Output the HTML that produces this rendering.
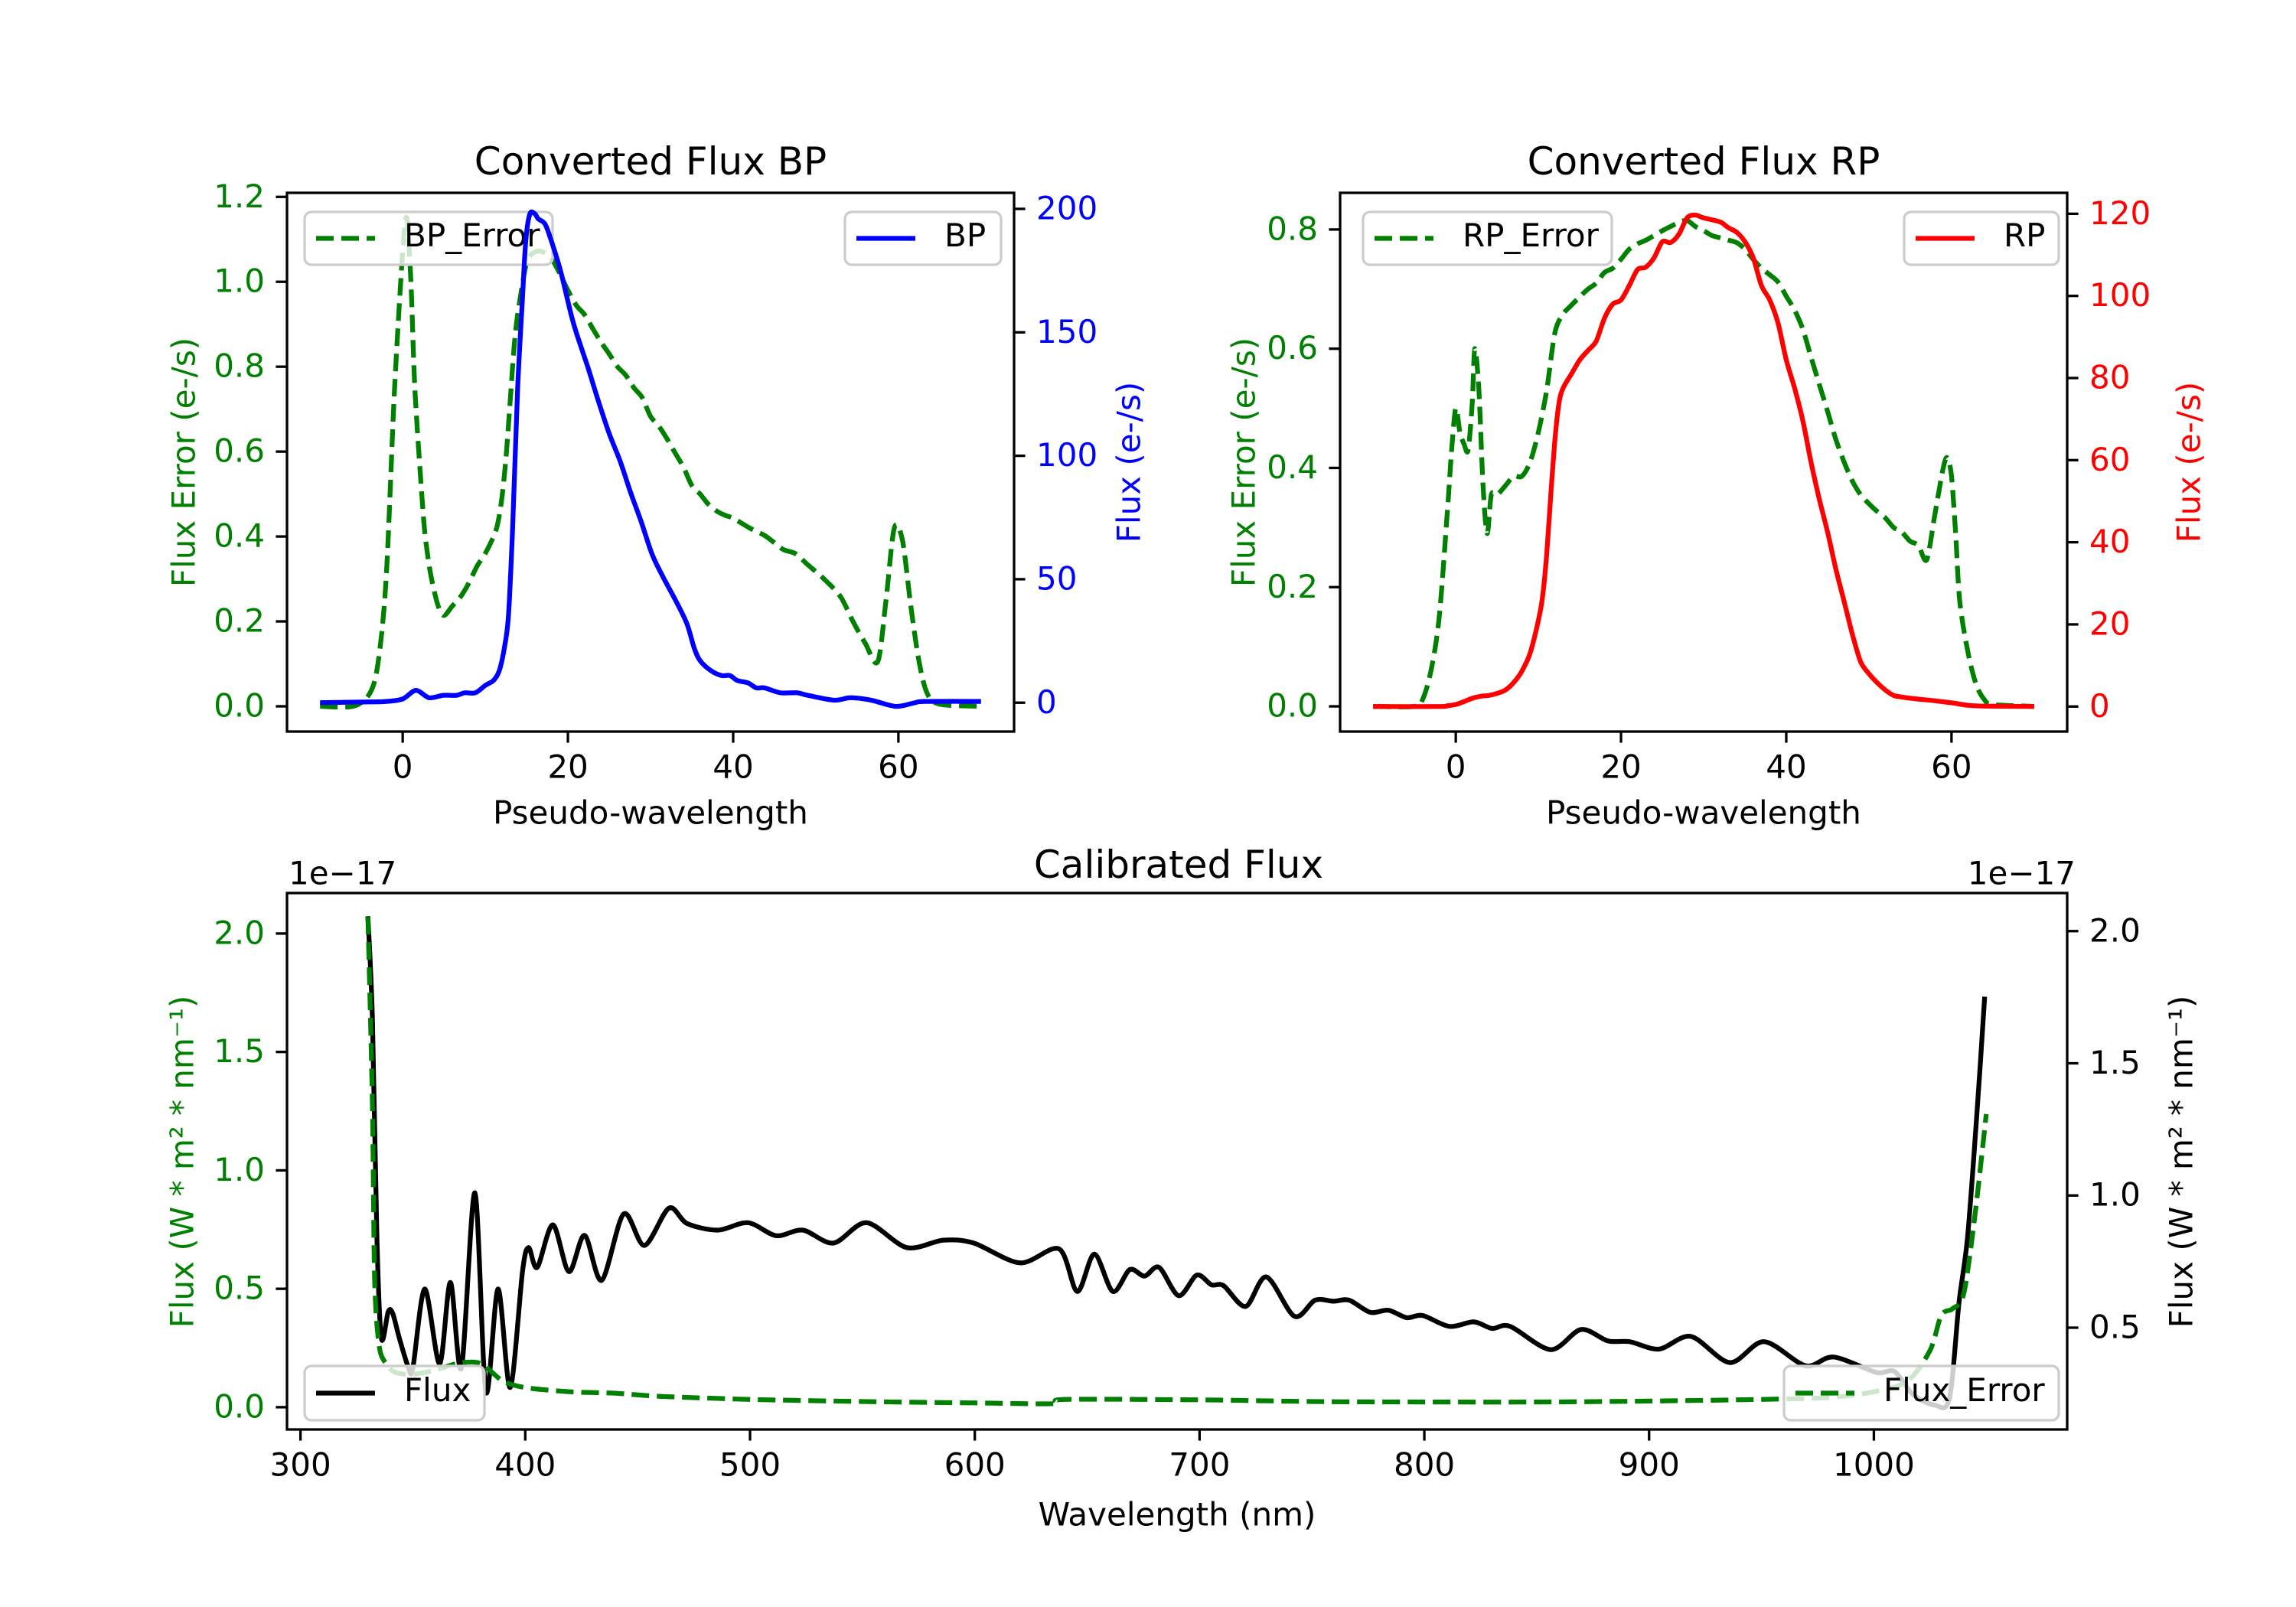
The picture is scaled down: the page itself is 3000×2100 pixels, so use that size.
<!DOCTYPE html>
<html><head><meta charset="utf-8"><style>
html,body{margin:0;padding:0;background:#fff}
svg{display:block}
text{font-family:"DejaVu Sans","Liberation Sans",sans-serif}
</style></head><body>
<svg id="fig" xmlns="http://www.w3.org/2000/svg" width="3000" height="2100" viewBox="0 0 3000 2100">
<rect width="3000" height="2100" fill="#fff"/>
</svg>
<script>
// ---------- data ----------
const bpX=[-10,-4,-2,0,1.6,3.2,4.9,6.5,7.5,8.8,10,11,11.7,12.3,12.8,13.3,13.9,14.5,14.9,15.4,16,16.4,17.2,17.8,19.1,20.4,21.1,22.4,23.7,25,26.3,27.6,28.9,30.2,31.5,33.1,34.4,35.3,36,37.3,38.6,39.6,40.5,41.8,42.8,43.8,45.7,47.7,49,52.2,54.2,56.7,59.7,62,63.2,70];
const bpY=[0,0.3,0.5,1.5,5,2,3,3,4,4,7,9,13,22,35,70,126,164,187,198,198,196,194,189,175,157,149,136,122,109,98,85,73,60,51,41,32,22,17,13,11,11,9,8,6,6,4,4,3,1,2,1,-1.5,0,0.5,0.5];
const bpErrX=[-10,-6,-4,-3,-2,-1,0,0.5,1,1.5,2.5,3,3.5,4.3,5,6,7,8,9,10,11,11.5,12,12.5,13,13.5,14,15,16,17,18,19,20,21,22,23,24,25,26,27,28,29,30,31,32,33,34,35,36,37,38,39,40,42,44,46,47.5,49,51,53,54.5,56,57.5,58.5,59.5,60.5,61.5,62.5,63.5,65,70];
const bpErrY=[0,0,0.03,0.1,0.3,0.74,1.07,1.15,1.0,0.74,0.45,0.36,0.3,0.236,0.214,0.236,0.258,0.29,0.33,0.36,0.4,0.43,0.49,0.585,0.716,0.85,0.934,1.044,1.07,1.07,1.055,1.02,0.98,0.945,0.923,0.89,0.858,0.83,0.8,0.78,0.75,0.727,0.683,0.66,0.63,0.596,0.563,0.52,0.5,0.476,0.46,0.45,0.443,0.42,0.4,0.37,0.36,0.334,0.3,0.258,0.2,0.148,0.105,0.25,0.42,0.39,0.236,0.105,0.03,0.005,0];
const rpX=[-10,-2,-1,0,1,2,3,4,5,6,7,8,9,10,10.5,11,11.5,12,12.5,13,14,15,16,17,18,19,20,21,22,23,24,25,26,27,28,29,30,32,33,34,35,36,37,38,39,40,41,42,43,44,45,46,47,48,49,50,51,52,53,54,56,58,60,62,64,70];
const rpY=[0,0,0.2,0.5,1.2,2,2.5,2.7,3.2,4,5.8,8.6,13,21,26.7,37,51.6,65,74,77.6,81,84.4,86.7,89,94.6,98,99,102.5,106.4,107,109.3,113.2,113,115,119,119.7,119,118,116.6,115.5,113.2,109.3,102.5,99,93.4,84.4,77.6,69.7,59.5,50.5,42.5,33.5,25.6,17.6,10.9,8,5.8,4,2.7,2.3,1.8,1.4,0.9,0.3,0.1,0];
const rpErrX=[-10,-5,-4,-3,-2,-1,-0.5,0,0.5,1,1.5,2,2.3,2.8,3.3,3.8,4.3,5,6,7,8,9,10,11,12,13,14,15,16,17,18,19,20,21,22,23,24,25,26,27,28,29,30,31,32,33,34,35,36,37,38,39,40,41,42,43,44,45,46,47,48,49,50,51,52,53,54,55,56,57,58,59,59.5,60,60.5,61,62,63,64,65,70];
const rpErrY=[0,0,0.012,0.06,0.15,0.33,0.43,0.5,0.46,0.44,0.43,0.51,0.6,0.53,0.37,0.29,0.355,0.355,0.37,0.386,0.386,0.41,0.46,0.53,0.627,0.658,0.673,0.687,0.7,0.71,0.728,0.735,0.75,0.767,0.776,0.782,0.79,0.798,0.805,0.812,0.815,0.805,0.798,0.79,0.786,0.782,0.778,0.767,0.75,0.735,0.724,0.712,0.688,0.665,0.633,0.586,0.54,0.495,0.448,0.41,0.378,0.355,0.34,0.327,0.316,0.3,0.292,0.277,0.27,0.246,0.323,0.4,0.417,0.386,0.29,0.176,0.09,0.036,0.011,0.003,0];
const fluxX=[330,332,334,336,339,341,344,348,350,355.3,361.9,366.7,371.6,377.6,382.5,387.9,393.3,398.8,401.5,405.3,412.3,419.4,426.4,434,443.8,453,463.9,472,485.6,499.1,511.6,523.5,537.1,551.8,569.7,586,599.5,620.1,637.5,645.6,653.2,661.4,669,675.5,682,690.7,698.8,705.3,710.7,720.5,729.7,742.2,751.4,759.6,766.6,775.9,784,792.1,799.2,811.1,822,830.1,838.2,856.2,869.7,881.7,891.4,904.4,918.6,935.9,951.1,969.6,982.1,1001,1009.2,1017.3,1027.1,1033.6,1037.9,1041.7,1046.1,1049.3];
const fluxY=[2.056,1.67,0.84,0.46,0.56,0.555,0.46,0.35,0.348,0.646,0.364,0.671,0.348,1.01,0.257,0.646,0.274,0.715,0.803,0.728,0.889,0.712,0.849,0.679,0.93,0.811,0.952,0.894,0.869,0.897,0.848,0.869,0.82,0.897,0.803,0.831,0.82,0.745,0.798,0.637,0.778,0.637,0.72,0.695,0.728,0.621,0.699,0.662,0.659,0.58,0.692,0.543,0.604,0.6,0.604,0.558,0.566,0.538,0.546,0.505,0.522,0.497,0.505,0.417,0.493,0.45,0.447,0.419,0.467,0.368,0.447,0.356,0.389,0.331,0.334,0.248,0.207,0.232,0.596,0.844,1.341,1.752];
const fluxErrX=[330,332,333,335,338,342,350,360,370,380,390,400,420,440,460,500,550,600,635,640,700,750,800,850,900,950,980,1000,1015,1025,1030,1035,1040,1045,1050];
const fluxErrY=[2.07,1.275,0.536,0.26,0.185,0.148,0.139,0.157,0.185,0.185,0.111,0.083,0.065,0.059,0.046,0.033,0.024,0.018,0.015,0.033,0.031,0.024,0.022,0.022,0.026,0.033,0.041,0.065,0.111,0.24,0.388,0.416,0.48,0.813,1.238];
const pseudoTicks=[0,20,40,60];
const bpErrTicks=[0,0.2,0.4,0.6,0.8,1.0,1.2];
const bpTicks=[0,50,100,150,200];
const rpErrTicks=[0,0.2,0.4,0.6,0.8];
const rpTicks=[0,20,40,60,80,100,120];
const wlTicks=[300,400,500,600,700,800,900,1000];
const calLeftTicks=[0,0.5,1.0,1.5,2.0];
const calRightTicks=[0.5,1.0,1.5,2.0];

// ---------- drawing ----------
const NS="http://www.w3.org/2000/svg";
const svg=document.getElementById('fig');
function el(tag,attrs,parent){const e=document.createElementNS(NS,tag);for(const k in attrs)e.setAttribute(k,attrs[k]);(parent||svg).appendChild(e);return e;}
function txt(s,x,y,size,color,anchor,parent,rot){
  const yy=rot?y:y-4;
  const t=el('text',{x:x,y:yy,'font-size':size,fill:color,'text-anchor':anchor||'middle','dominant-baseline':'central'},parent);
  if(rot)t.setAttribute('transform','rotate('+rot+' '+x+' '+yy+')');
  t.textContent=s;return t;}
function scale(d0,d1,p0,p1){return v=>p0+(v-d0)/(d1-d0)*(p1-p0);}
function fmt(v,dec){return v.toFixed(dec);}
function line(xs,ys,sx,sy,color,dashed,clip){
  const P=xs.map((x,i)=>[sx(x),sy(ys[i])]);
  let d='M'+P[0][0].toFixed(1)+','+P[0][1].toFixed(1);
  const k=0.5/3;
  for(let i=0;i<P.length-1;i++){
    const p0=P[Math.max(0,i-1)],p1=P[i],p2=P[i+1],p3=P[Math.min(P.length-1,i+2)];
    const c1x=p1[0]+(p2[0]-p0[0])*k*0.9,c1y=p1[1]+(p2[1]-p0[1])*k*0.9;
    const c2x=p2[0]-(p3[0]-p1[0])*k*0.9,c2y=p2[1]-(p3[1]-p1[1])*k*0.9;
    d+='C'+c1x.toFixed(1)+','+c1y.toFixed(1)+' '+c2x.toFixed(1)+','+c2y.toFixed(1)+' '+p2[0].toFixed(1)+','+p2[1].toFixed(1);
  }
  const a={d:d,fill:'none',stroke:color,'stroke-width':6.25,'stroke-linejoin':'round','clip-path':'url(#'+clip+')'};
  if(dashed){a['stroke-dasharray']='23,10';}
  return el('path',a);}
function clipRect(id,b){const c=el('clipPath',{id:id});el('rect',{x:b.x0,y:b.y0,width:b.x1-b.x0,height:b.y1-b.y0},c);}
function frame(b){el('rect',{x:b.x0,y:b.y0,width:b.x1-b.x0,height:b.y1-b.y0,fill:'none',stroke:'#000','stroke-width':3.3});}
function xTicks(ticks,sx,b,g){ticks.forEach(t=>{const x=sx(t);
  el('line',{x1:x,x2:x,y1:b.y1,y2:b.y1+14.6,stroke:'#000','stroke-width':3.3},g);
  txt(String(t),x,b.y1+50,42,'#000','middle',g);});}
function yTicks(ticks,sy,b,side,color,dec,g){ticks.forEach(t=>{const y=sy(t);
  if(side==='left'){el('line',{x1:b.x0-14.6,x2:b.x0,y1:y,y2:y,stroke:'#000','stroke-width':3.3},g);
    txt(fmt(t,dec),b.x0-29,y+3,42,color,'end',g);}
  else{el('line',{x1:b.x1,x2:b.x1+14.6,y1:y,y2:y,stroke:'#000','stroke-width':3.3},g);
    txt(fmt(t,dec),b.x1+29,y+3,42,color,'start',g);}});}
function legend(x0,x1,y0,y1,color,dashed,label,name){
  const g=el('g',{});
  
  
  el('rect',{x:x0,y:y0,width:x1-x0,height:y1-y0,rx:9,fill:'#fff','fill-opacity':0.8,stroke:'#cccccc','stroke-width':3.3},g);
  const cy=(y0+y1)/2;
  const a={x1:x0+15,x2:x0+92,y1:cy,y2:cy,stroke:color,'stroke-width':6.25};
  if(dashed)a['stroke-dasharray']='23,10';
  el('line',a,g);
  txt(label,x0+130,cy,42,'#000','start',g);
}
const defs=el('defs',{});

// ---- Axes 1: Converted Flux BP ----
const b1={x0:375,x1:1325,y0:252,y1:956};
clipRect('c1',b1);
const sx1=scale(-14,74,b1.x0,b1.x1);
const sy1L=scale(-0.0595,1.2095,b1.y1,b1.y0);
const sy1R=scale(-11.7,206.5,b1.y1,b1.y0);
let g=el('g',{});
const bpErrLine=line(bpErrX,bpErrY,sx1,sy1L,'#008000',true,'c1');


legend(398,722,277,346,'#008000',true,'BP_Error','bp-error-legend');
const bpLine=line(bpX,bpY,sx1,sy1R,'#0000ff',false,'c1');


legend(1104,1308,277,346,'#0000ff',false,'BP','bp-legend');
frame(b1);
xTicks(pseudoTicks,sx1,b1,g);
yTicks(bpErrTicks,sy1L,b1,'left','#008000',1,g);
yTicks(bpTicks,sy1R,b1,'right','#0000ff',0,g);
let t=txt('Converted Flux BP',850,215,50,'#000','middle');
t=txt('Pseudo-wavelength',850,1066,42,'#000','middle');
t=txt('Flux Error (e-/s)',240,604,42,'#008000','middle',null,-90);
t=txt('Flux (e-/s)',1475,604,42,'#0000ff','middle',null,-90);

// ---- Axes 2: Converted Flux RP ----
const b2={x0:1751,x1:2701,y0:252,y1:956};
clipRect('c2',b2);
const sx2=scale(-14,74,b2.x0,b2.x1);
const sy2L=scale(-0.0423,0.8615,b2.y1,b2.y0);
const sy2R=scale(-6.1,125.1,b2.y1,b2.y0);
g=el('g',{});
const rpErrLine=line(rpErrX,rpErrY,sx2,sy2L,'#008000',true,'c2');


legend(1781,2106,277,346,'#008000',true,'RP_Error','rp-error-legend');
const rpLine=line(rpX,rpY,sx2,sy2R,'#ff0000',false,'c2');


legend(2488,2690,277,346,'#ff0000',false,'RP','rp-legend');
frame(b2);
xTicks(pseudoTicks,sx2,b2,g);
yTicks(rpErrTicks,sy2L,b2,'left','#008000',1,g);
yTicks(rpTicks,sy2R,b2,'right','#ff0000',0,g);
t=txt('Converted Flux RP',2226,215,50,'#000','middle');
t=txt('Pseudo-wavelength',2226,1066,42,'#000','middle');
t=txt('Flux Error (e-/s)',1625,604,42,'#008000','middle',null,-90);
t=txt('Flux (e-/s)',2860,604,42,'#ff0000','middle',null,-90);

// ---- Axes 3: Calibrated Flux ----
const b3={x0:375,x1:2701,y0:1167,y1:1868};
clipRect('c3',b3);
const sx3=scale(294,1086,b3.x0,b3.x1);
const sy3L=scale(-0.094,2.171,b3.y1,b3.y0);
const sy3R=scale(0.115,2.144,b3.y1,b3.y0);
g=el('g',{});
const fluxLine=line(fluxX,fluxY,sx3,sy3R,'#000000',false,'c3');


const fluxErrLine=line(fluxErrX,fluxErrY,sx3,sy3L,'#008000',true,'c3');


legend(398,633,1785,1856,'#000000',false,'Flux','flux-legend');
legend(2331,2690,1785,1856,'#008000',true,'Flux_Error','flux-error-legend');
frame(b3);
xTicks(wlTicks,sx3,b3,g);
yTicks(calLeftTicks,sy3L,b3,'left','#008000',1,g);
yTicks(calRightTicks,sy3R,b3,'right','#000',1,g);
t=txt('Calibrated Flux',1540,1134,50,'#000','middle');
t=txt('1e\u221217',377,1145,42,'#000','start');
t=txt('1e\u221217',2712,1145,42,'#000','end');
t=txt('Wavelength (nm)',1538,1983,42,'#000','middle');
t=txt('Flux (W * m\u00b2 * nm\u207b\u00b9)',238,1518,42,'#008000','middle',null,-90);
t=txt('Flux (W * m\u00b2 * nm\u207b\u00b9)',2850,1518,42,'#000','middle',null,-90);
</script>
</body></html>
